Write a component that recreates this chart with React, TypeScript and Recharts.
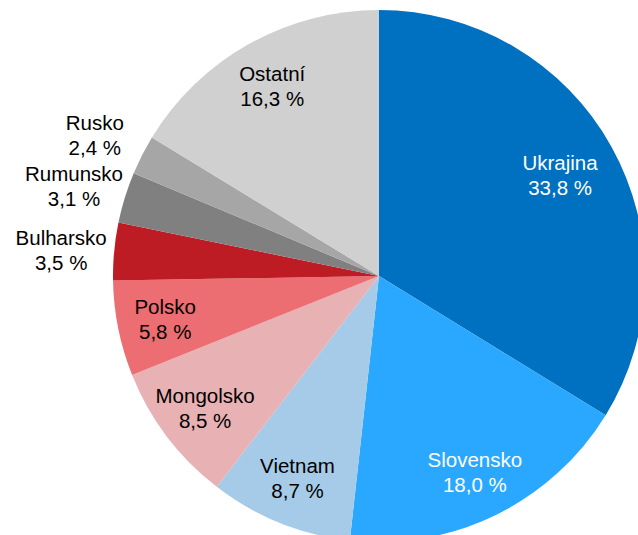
import * as React from "react"
import { PieChart, Pie, Cell } from "recharts"

const countries = ["Ukrajina", "Slovensko", "Vietnam", "Mongolsko", "Polsko", "Bulharsko", "Rumunsko", "Rusko", "Ostatní"]
const shares = [33.8, 18.0, 8.7, 8.5, 5.8, 3.5, 3.1, 2.4, 16.3]

const colors = ["#0070C0", "#2AA8FF", "#A6CBE8", "#E8B1B4", "#EC6D72", "#BE1C24", "#808080", "#A6A6A6", "#D0D0D0"]
const labelColors = ["#fff", "#fff", "#000", "#000", "#000", "#000", "#000", "#000", "#000"]

const data = countries.map((name, i) => ({ name, value: shares[i] }))

const RAD = Math.PI / 180
const fmt = (v: number) => v.toFixed(1).replace(".", ",") + " %"

function renderLabel(props: any) {
  const { cx, cy, midAngle, outerRadius, index, value, name } = props
  // small slices get their label outside, on the left
  const outside = value < 4
  const r = outside ? outerRadius * 1.2 : outerRadius * (value > 30 ? 0.78 : 0.82)
  const x = cx + r * Math.cos(-midAngle * RAD)
  const y = cy + r * Math.sin(-midAngle * RAD) + (outside ? 4 : 0)
  return (
    <text
      x={x}
      y={y}
      textAnchor="middle"
      fill={labelColors[index]}
      fontSize={20.5}
      fontFamily="'Liberation Sans', Arial, sans-serif"
    >
      <tspan x={x} dy={-5}>{name}</tspan>
      <tspan x={x} dy={25}>{fmt(value)}</tspan>
    </text>
  )
}

export default function App() {
  return (
    <div style={{ position: "absolute", left: 0, top: 0, width: 638, height: 535, background: "#fff" }}>
      <PieChart width={638} height={535} margin={{ top: 0, right: 0, bottom: 0, left: 0 }}>
        <Pie
          data={data}
          dataKey="value"
          nameKey="name"
          cx={379}
          cy={276}
          outerRadius={266}
          startAngle={90}
          endAngle={-270}
          stroke="none"
          label={renderLabel}
          labelLine={false}
          isAnimationActive={false}
        >
          {data.map((entry, i) => (
            <Cell key={`cell-${i}`} fill={colors[i]} />
          ))}
        </Pie>
      </PieChart>
    </div>
  )
}
